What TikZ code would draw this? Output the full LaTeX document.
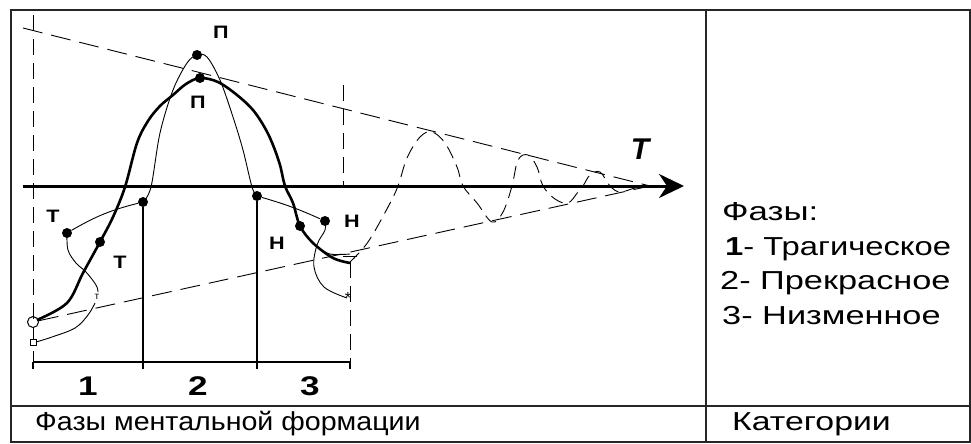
\documentclass[tikz,border=0pt]{standalone}
\usepackage{fontspec}
\setmainfont{Liberation Sans}
\usetikzlibrary{arrows.meta}
\newcommand{\wide}[2]{\scalebox{#1}[1]{#2}}
\begin{document}
\begin{tikzpicture}[x=1pt,y=-1pt,
  frame/.style={line width=1.4pt, draw=black!85},
  thickcurve/.style={line width=2.6pt, line join=round},
  thincurve/.style={line width=0.9pt},
  cone/.style={line width=0.9pt, dash pattern=on 20pt off 9pt},
  vdash/.style={line width=1pt, dash pattern=on 16pt off 8pt},
  wave/.style={line width=0.9pt, dash pattern=on 13pt off 7pt},
  dot/.style={circle, fill, inner sep=0pt, minimum size=10pt},
  lbl/.style={font=\bfseries\fontsize{18}{18}\selectfont, inner sep=0pt},
  num/.style={font=\bfseries\fontsize{27}{27}\selectfont, inner sep=0pt},
  txt/.style={font=\fontsize{26}{26}\selectfont, inner sep=0pt, anchor=west}
]
\useasboundingbox (0,0) rectangle (971,444);
% frame
\draw[frame] (11,10) rectangle (970,442);
\draw[frame] (706,10) -- (706,442);
\draw[frame] (11,406) -- (970,406);
% cone
\coordinate (tip) at (650,186);
\coordinate (ctop) at (23,28);
\node[draw, circle, fill=white, line width=1pt, inner sep=0pt, minimum size=11pt] (oc) at (33,322) {};
\draw[cone] (ctop) -- (tip);
\draw[cone] (oc) -- (tip);
% vertical dashed lines
\draw[vdash] (33,15) -- (33,362);
\draw[vdash] (343,85) -- (343,186);
\draw[vdash] (350,262) -- (350,362);
% baseline and ticks
\draw[line width=1.2pt] (33,362) -- (350,362);
\foreach \x in {33,143,257,350} \draw[line width=1.2pt] (\x,362) -- (\x,369);
% dots
\node[dot] (t1) at (67,233) {};
\node[dot] (t2) at (100,242) {};
\node[dot] (a1) at (143,202) {};
\node[dot] (p1) at (197,55) {};
\node[dot] (p2) at (200,78) {};
\node[dot] (a2) at (257,196) {};
\node[dot] (n1) at (300,226) {};
\node[dot] (n2) at (325,221) {};
\node[draw, fill=white, line width=0.8pt, inner sep=0pt, minimum size=6pt] (sq) at (33,342) {};
% solid verticals
\draw[line width=1.2pt] (a1) -- (143,362);
\draw[line width=1.2pt] (a2) -- (257,362);
% thick curve
\draw[thickcurve] plot[smooth, tension=0.55] coordinates {(37,320) (67,303) (83,273) (100,242) (113,217) (125,187) (137,143) (148,121) (160,106) (173,95) (186,84) (200,78) (218,82) (237,95) (253,110) (265,128) (273,145) (280,165) (285,186) (293,203) (300,226) (313,243) (333,258) (350,263)};
% thin curve
\draw[thincurve] (t1) to[bend left=8] (a1);
\draw[thincurve] plot[smooth, tension=0.6] coordinates {(67,233) (68,250) (76,263) (86,272) (96,285) (98,292)};
\draw[thincurve] plot[smooth, tension=0.6] coordinates {(95,303) (88,315) (75,328) (52,337) (36,342)};
\draw[thincurve] plot[smooth, tension=0.55] coordinates {(143,202) (151,187) (160,133) (173,90) (187,63) (197,55) (207,57) (220,80) (233,117) (243,150) (252,187) (257,196)};
\draw[thincurve] (a2) to[bend left=4] (n2);
\draw[thincurve] plot[smooth, tension=0.6] coordinates {(325,221) (325,230) (317,245) (314,267) (324,287) (347,298)};
\draw[thincurve] plot[smooth, tension=0.6] coordinates {(316,246) (330,254) (350,254)};
% marks
\node[inner sep=0pt, font=\fontsize{16}{16}\selectfont] (star) at (348,298) {*};
\draw[line width=1pt] (343,256) -- (357,256);
% damped wave
\draw[wave] plot[smooth, tension=0.6] coordinates {(350,262) (368,242) (388,207) (398,186) (407,158) (420,137) (432,132) (445,143) (457,167) (463,186) (477,203) (492,222) (503,212) (512,186) (518,160) (528,155) (537,167) (543,186) (555,199) (568,203) (578,192) (583,186) (590,175) (600,172) (610,186) (620,192) (635,188) (650,186)};
% axis
\draw[line width=3pt, -{Stealth[length=25pt,width=24pt,inset=8pt]}] (23,186) -- (684,186);
\node[font=\bfseries\itshape\fontsize{30}{30}\selectfont, inner sep=0pt] (T) at (640,149) {T};
% labels
\node[lbl] (lp1) at (221,32) {\wide{1.2}{П}};
\node[lbl] (lp2) at (198,102) {\wide{1.2}{П}};
\node[lbl] (lt1) at (53,216) {\wide{1.2}{Т}};
\node[lbl] (lt2) at (120,262) {\wide{1.2}{Т}};
\node[lbl] (ln1) at (277,243) {\wide{1.2}{Н}};
\node[lbl] (ln2) at (352,221) {\wide{1.2}{Н}};
\node[inner sep=0pt, font=\fontsize{10}{10}\selectfont] (lt3) at (97,297) {т};
\node[num] (n1l) at (88,386) {\wide{1.3}{1}};
\node[num] (n2l) at (198,386) {\wide{1.3}{2}};
\node[num] (n3l) at (310,386) {\wide{1.3}{3}};
% texts
\node[txt] (bl) at (35,424) {\wide{1.1}{Фазы ментальной формации}};
\node[txt] (br) at (732,424) {\wide{1.3}{Категории}};
\node[txt] (f0) at (722,212) {\wide{1.34}{Фазы:}};
\node[txt] (f1) at (725,249) {\wide{1.26}{\textbf{1}- Трагическое}};
\node[txt] (f2) at (720,283) {\wide{1.32}{2- Прекрасное}};
\node[txt] (f3) at (722,316) {\wide{1.32}{3- Низменное}};
\end{tikzpicture}
\end{document}
